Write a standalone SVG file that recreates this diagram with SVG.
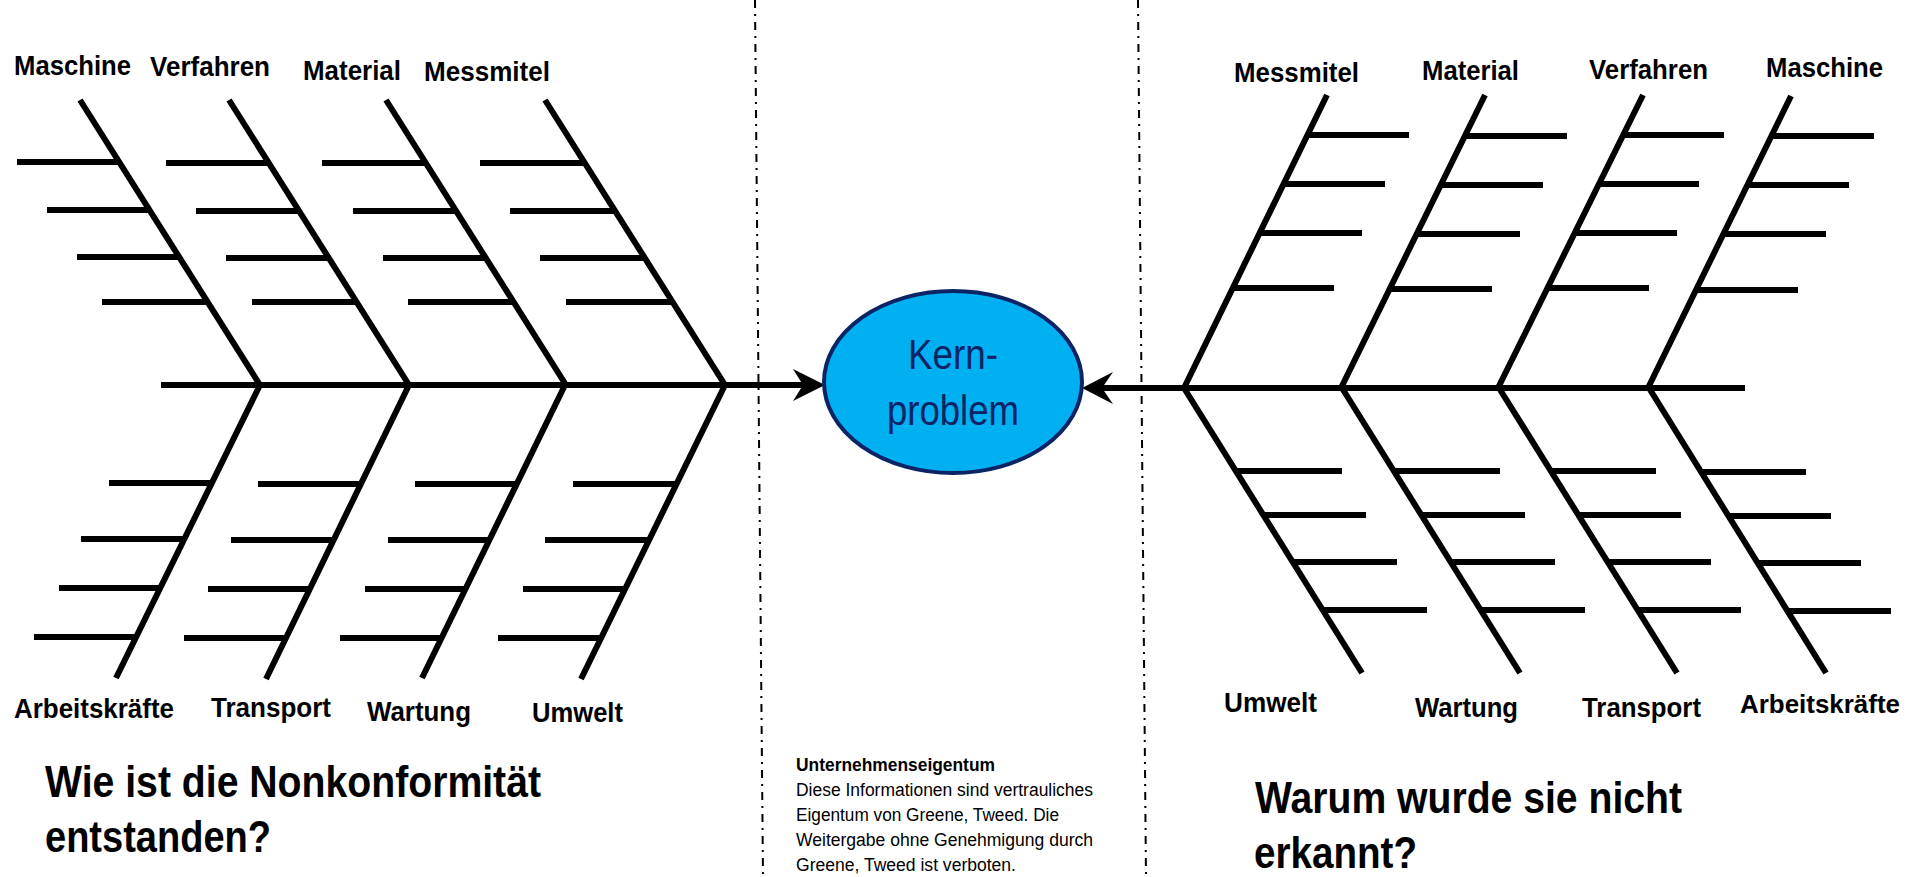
<svg xmlns="http://www.w3.org/2000/svg" width="1909" height="877" viewBox="0 0 1909 877">
<style>
.b{stroke:#000;stroke-width:6;fill:none;stroke-linecap:butt}
.lbl{font-family:"Liberation Sans",Arial,sans-serif;font-weight:bold;font-size:28px;fill:#000}
.ttl{font-family:"Liberation Sans",Arial,sans-serif;font-weight:bold;font-size:45px;fill:#000}
.ft{font-family:"Liberation Sans",Arial,sans-serif;font-size:18px;fill:#000}
.dd{stroke:#000;stroke-width:2;stroke-dasharray:8 6 2 6;fill:none}
</style>
<rect width="1909" height="877" fill="#fff"/>
<g id="dividers">
<line class="dd" x1="755" y1="0" x2="763" y2="877"/>
<line class="dd" x1="1138" y1="0" x2="1146" y2="877"/>
</g>
<g id="connectors">
<path class="b" d="M161 385H805"/>
<polygon points="825,385 793,369 803,385 793,401" fill="#000"/>
<path class="b" d="M1100 388H1745"/>
<polygon points="1082,388 1113,372 1102,388 1113,404" fill="#000"/>
</g>
<g id="core-problem">
<ellipse cx="953" cy="382" rx="129" ry="91" fill="#00b0f0" stroke="#0c2466" stroke-width="4"/>
<text x="953" y="369" text-anchor="middle" font-family="Liberation Sans, Arial, sans-serif" font-size="42" fill="#0c2466" textLength="90" lengthAdjust="spacingAndGlyphs">Kern-</text>
<text x="953" y="425" text-anchor="middle" font-family="Liberation Sans, Arial, sans-serif" font-size="42" fill="#0c2466" textLength="132" lengthAdjust="spacingAndGlyphs">problem</text>
</g>
<g id="left-maschine">
<path class="b" d="M80 100L260 385M17 162H119M47 210H149M77 257H179M102 302H208"/>
<text class="lbl" x="14" y="75" textLength="117" lengthAdjust="spacingAndGlyphs">Maschine</text>
</g>
<g id="left-verfahren">
<path class="b" d="M229 100L409 385M166 163H268M196 211H298M226 258H328M252 302H357"/>
<text class="lbl" x="150" y="76" textLength="120" lengthAdjust="spacingAndGlyphs">Verfahren</text>
</g>
<g id="left-material">
<path class="b" d="M386 100L566 385M322 163H425M353 211H455M383 258H485M408 302H514"/>
<text class="lbl" x="303" y="80" textLength="98" lengthAdjust="spacingAndGlyphs">Material</text>
</g>
<g id="left-messmitel">
<path class="b" d="M545 100L725 385M480 163H584M510 211H614M540 258H644M566 302H673"/>
<text class="lbl" x="424" y="81" textLength="126" lengthAdjust="spacingAndGlyphs">Messmitel</text>
</g>
<g id="left-arbeitskraefte">
<path class="b" d="M260 385L116 678M109 483H212M81 539H184M59 588H160M34 637H136"/>
<text class="lbl" x="14" y="718" textLength="160" lengthAdjust="spacingAndGlyphs">Arbeitskräfte</text>
</g>
<g id="left-transport">
<path class="b" d="M409 385L266 679M258 484H361M231 540H333M208 589H309M184 638H285"/>
<text class="lbl" x="211" y="717" textLength="120" lengthAdjust="spacingAndGlyphs">Transport</text>
</g>
<g id="left-wartung">
<path class="b" d="M565 385L422 678M415 484H517M388 540H489M365 589H465M340 638H441"/>
<text class="lbl" x="367" y="721" textLength="104" lengthAdjust="spacingAndGlyphs">Wartung</text>
</g>
<g id="left-umwelt">
<path class="b" d="M725 385L581 679M573 484H677M545 540H649M523 589H625M498 638H601"/>
<text class="lbl" x="532" y="722" textLength="91" lengthAdjust="spacingAndGlyphs">Umwelt</text>
</g>
<g id="right-messmitel">
<path class="b" d="M1184 388L1327 95M1307 135H1409M1284 184H1385M1260 233H1362M1233 288H1334"/>
<text class="lbl" x="1234" y="82" textLength="125" lengthAdjust="spacingAndGlyphs">Messmitel</text>
</g>
<g id="right-material">
<path class="b" d="M1341 388L1485 95M1464 136H1567M1441 185H1543M1417 234H1520M1390 289H1492"/>
<text class="lbl" x="1422" y="80" textLength="97" lengthAdjust="spacingAndGlyphs">Material</text>
</g>
<g id="right-verfahren">
<path class="b" d="M1498 388L1643 95M1621 135H1724M1598 184H1699M1574 233H1677M1547 288H1649"/>
<text class="lbl" x="1589" y="79" textLength="119" lengthAdjust="spacingAndGlyphs">Verfahren</text>
</g>
<g id="right-maschine">
<path class="b" d="M1648 388L1791 96M1771 136H1874M1748 185H1849M1724 234H1826M1697 290H1798"/>
<text class="lbl" x="1766" y="77" textLength="117" lengthAdjust="spacingAndGlyphs">Maschine</text>
</g>
<g id="right-umwelt">
<path class="b" d="M1184 388L1362 673M1236 471H1342M1263 515H1366M1293 562H1397M1323 610H1427"/>
<text class="lbl" x="1224" y="712" textLength="93" lengthAdjust="spacingAndGlyphs">Umwelt</text>
</g>
<g id="right-wartung">
<path class="b" d="M1342 388L1520 673M1394 471H1500M1421 515H1525M1451 562H1555M1481 610H1585"/>
<text class="lbl" x="1415" y="717" textLength="103" lengthAdjust="spacingAndGlyphs">Wartung</text>
</g>
<g id="right-transport">
<path class="b" d="M1499 388L1677 673M1551 471H1656M1578 515H1681M1608 562H1711M1638 610H1741"/>
<text class="lbl" x="1582" y="717" textLength="119" lengthAdjust="spacingAndGlyphs">Transport</text>
</g>
<g id="right-arbeitskraefte">
<path class="b" d="M1649 388L1826 673M1701 472H1806M1728 516H1831M1758 563H1861M1788 611H1891"/>
<text class="lbl" x="1740" y="713" style="font-size:26px" textLength="160" lengthAdjust="spacingAndGlyphs">Arbeitskräfte</text>
</g>
<g id="title-left">
<text class="ttl" x="45" y="797" textLength="496" lengthAdjust="spacingAndGlyphs">Wie ist die Nonkonformität</text>
<text class="ttl" x="45" y="852" textLength="226" lengthAdjust="spacingAndGlyphs">entstanden?</text>
</g>
<g id="title-right">
<text class="ttl" x="1255" y="813" textLength="427" lengthAdjust="spacingAndGlyphs">Warum wurde sie nicht</text>
<text class="ttl" x="1254" y="868" textLength="163" lengthAdjust="spacingAndGlyphs">erkannt?</text>
</g>
<g id="footer">
<text class="ft" x="796" y="771" font-weight="bold" textLength="199" lengthAdjust="spacingAndGlyphs">Unternehmenseigentum</text>
<text class="ft" x="796" y="796" textLength="297" lengthAdjust="spacingAndGlyphs">Diese Informationen sind vertrauliches</text>
<text class="ft" x="796" y="821" textLength="263" lengthAdjust="spacingAndGlyphs">Eigentum von Greene, Tweed. Die</text>
<text class="ft" x="796" y="846" textLength="297" lengthAdjust="spacingAndGlyphs">Weitergabe ohne Genehmigung durch</text>
<text class="ft" x="796" y="871" textLength="220" lengthAdjust="spacingAndGlyphs">Greene, Tweed ist verboten.</text>
</g>
</svg>
